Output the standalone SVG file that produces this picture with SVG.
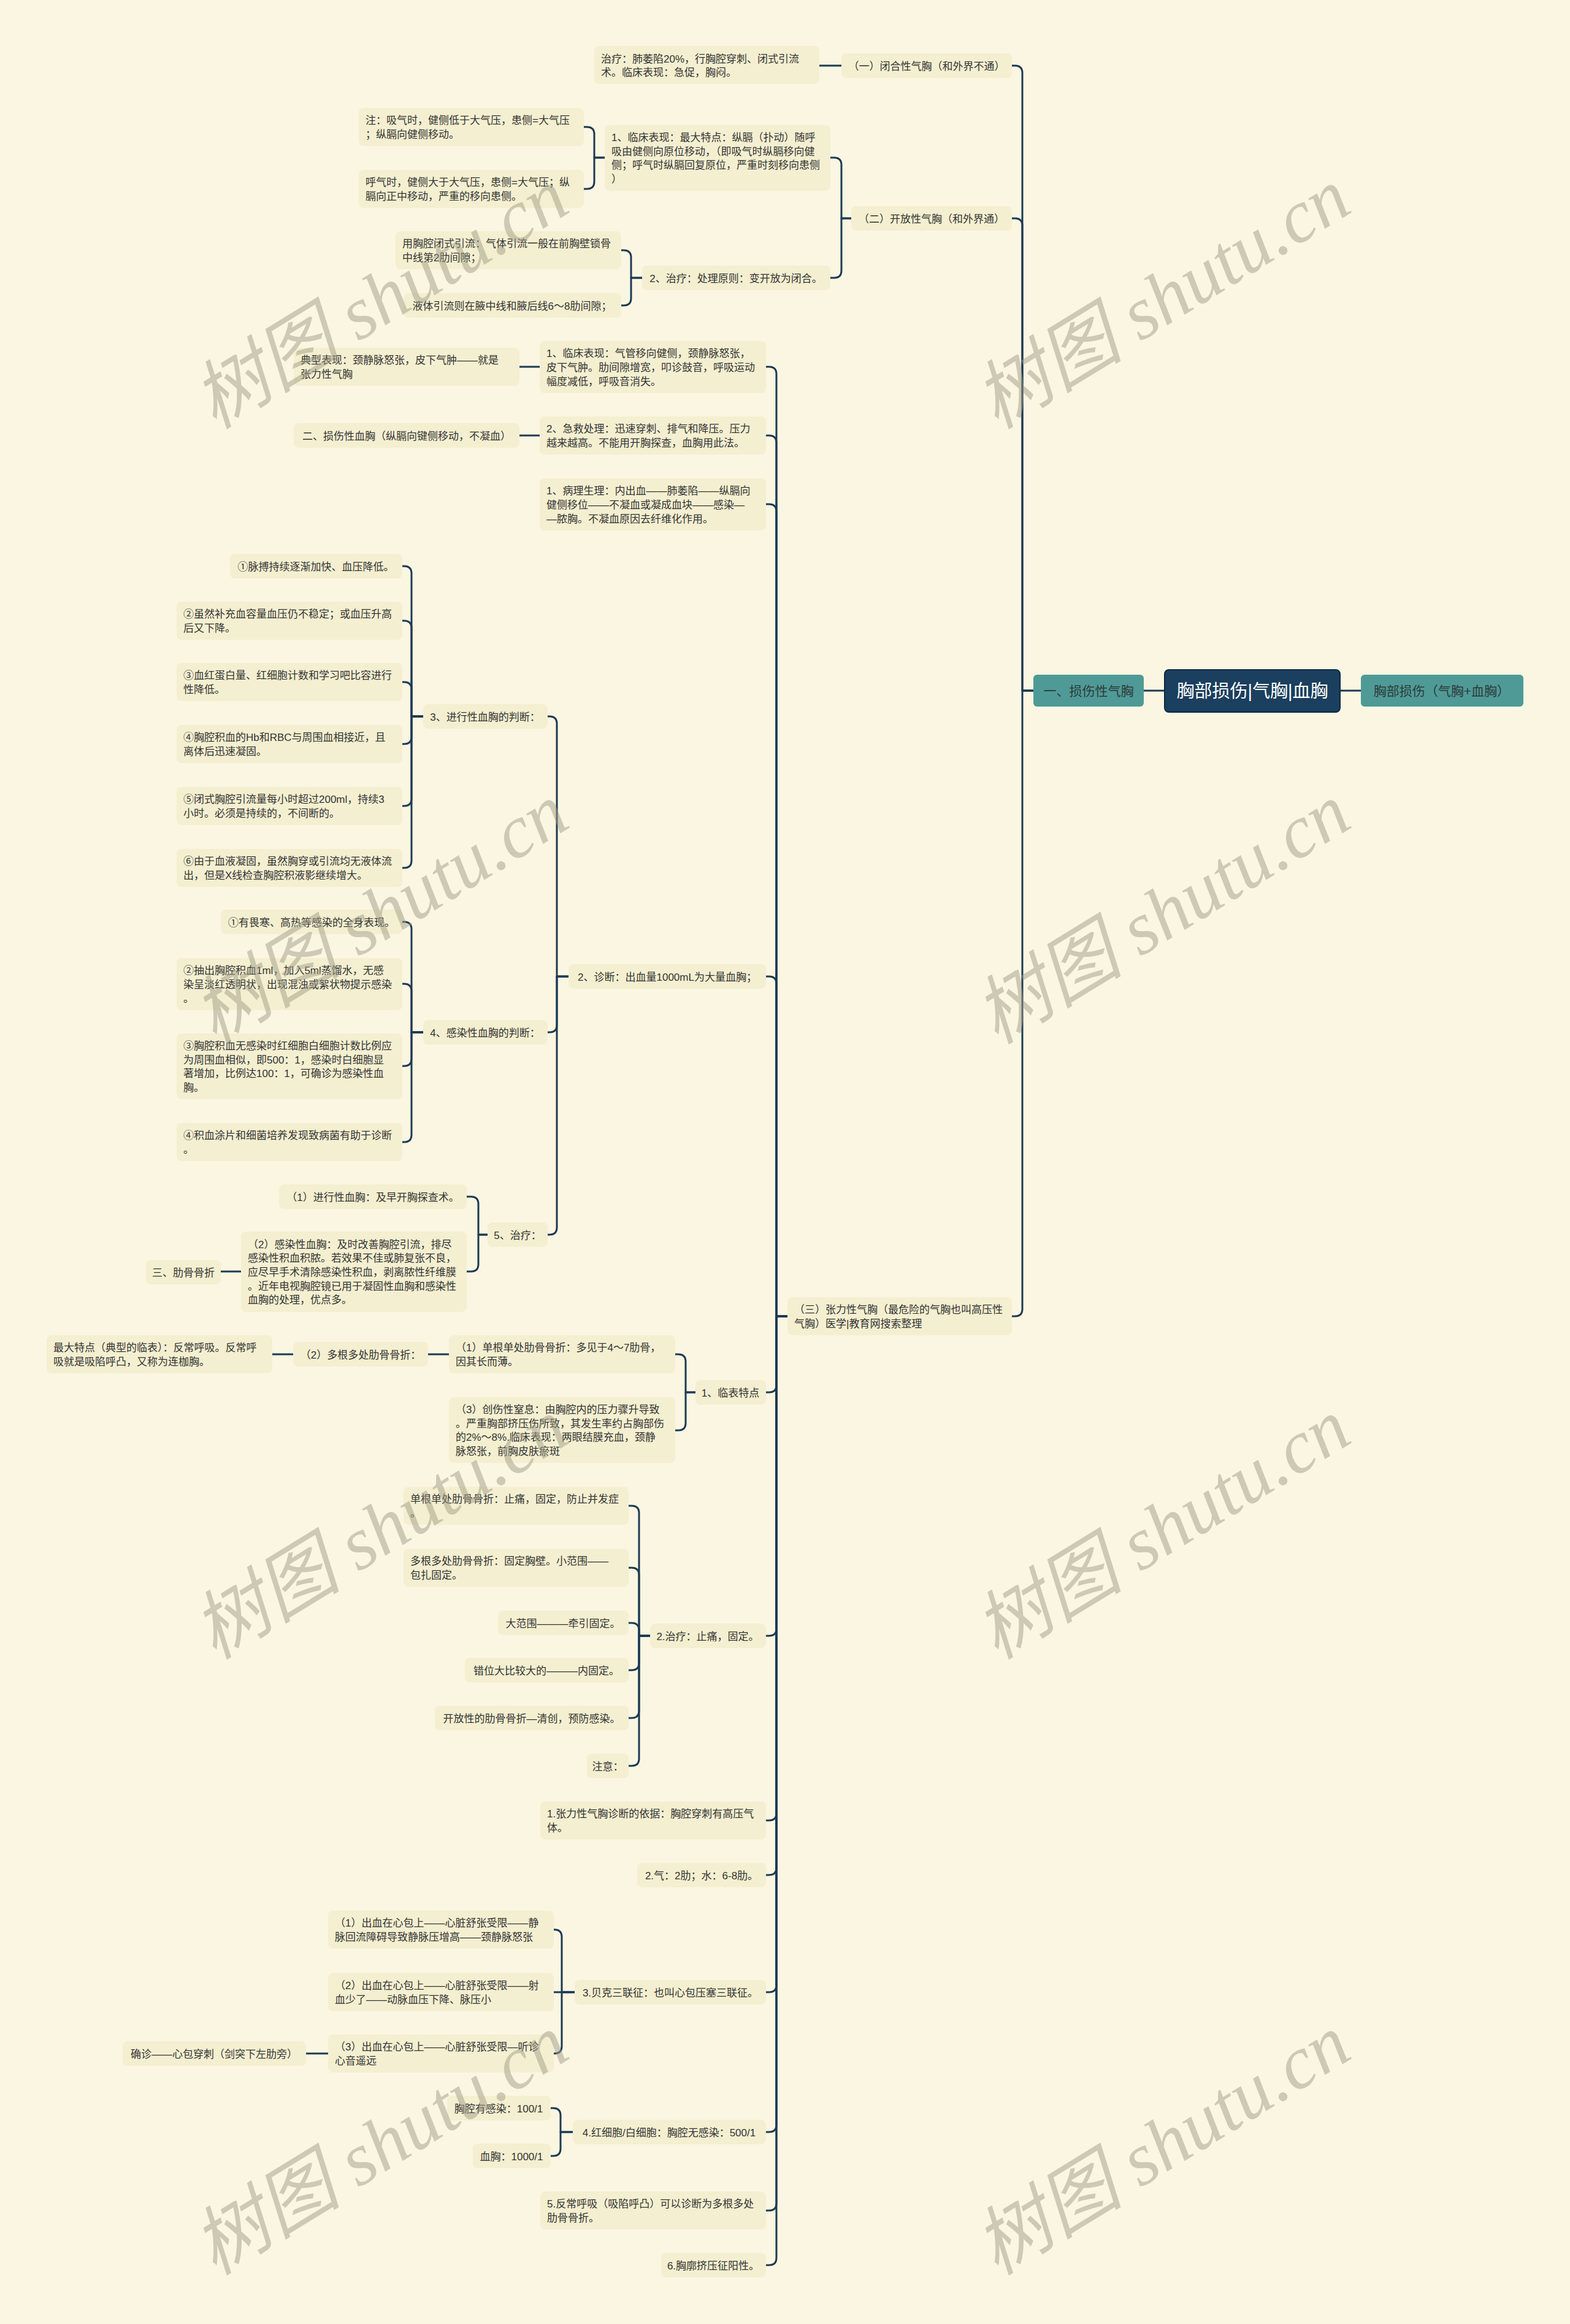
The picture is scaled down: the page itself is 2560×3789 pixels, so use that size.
<svg xmlns="http://www.w3.org/2000/svg" width="2560" height="3789" viewBox="0 0 2560 3789">
<style>
.bg{fill:#faf6e2}
.n rect{fill:#f4efd0}
.t{font-family:"Liberation Sans","Noto Sans CJK SC",sans-serif;font-size:17px;fill:#333333}
.m{text-anchor:middle}
.c path{fill:none;stroke:#1d3a52;stroke-width:3;stroke-linecap:round;stroke-linejoin:round}
.teal rect{fill:#4f9a97}
.tt{font-family:"Liberation Sans","Noto Sans CJK SC",sans-serif;font-size:21px;fill:#2e3a3a;text-anchor:middle}
.wm{font-family:"Liberation Serif","Noto Sans CJK SC",serif;font-size:122px;font-style:italic;fill:#a29e88;opacity:0.5}
</style>
<rect class="bg" x="0" y="0" width="2560" height="3789"/>

<g id="connectors" class="c">
<path d="M1685 1126 H1667 V119 Q1667 107 1655 107 H1650"/>
<path d="M1685 1126 H1667 V368 Q1667 356 1655 356 H1650"/>
<path d="M1685 1126 H1667 V2134 Q1667 2146 1655 2146 H1650"/>
<path d="M1372 107 H1336"/>
<path d="M1388 356 H1372 V269 Q1372 257 1360 257 H1354"/>
<path d="M1388 356 H1372 V441 Q1372 453 1360 453 H1354"/>
<path d="M986 257 H969 V219 Q969 207 957 207 H952"/>
<path d="M986 257 H969 V296 Q969 308 957 308 H952"/>
<path d="M1047 453 H1029 V420 Q1029 408 1017 408 H1013"/>
<path d="M1047 453 H1029 V486 Q1029 498 1017 498 H1013"/>
<path d="M1284 2146 H1266 V610 Q1266 598 1254 598 H1249"/>
<path d="M1284 2146 H1266 V722 Q1266 710 1254 710 H1249"/>
<path d="M1284 2146 H1266 V834 Q1266 822 1254 822 H1249"/>
<path d="M1284 2146 H1266 V1604 Q1266 1592 1254 1592 H1249"/>
<path d="M1284 2146 H1266 V2258 Q1266 2270 1254 2270 H1249"/>
<path d="M1284 2146 H1266 V2655 Q1266 2667 1254 2667 H1249"/>
<path d="M1284 2146 H1266 V2956 Q1266 2968 1254 2968 H1249"/>
<path d="M1284 2146 H1266 V3045 Q1266 3057 1254 3057 H1249"/>
<path d="M1284 2146 H1266 V3236 Q1266 3248 1254 3248 H1249"/>
<path d="M1284 2146 H1266 V3464 Q1266 3476 1254 3476 H1249"/>
<path d="M1284 2146 H1266 V3592 Q1266 3604 1254 3604 H1249"/>
<path d="M1284 2146 H1266 V3681 Q1266 3693 1254 3693 H1249"/>
<path d="M880 598 H847"/>
<path d="M880 710 H847"/>
<path d="M927 1592 H908 V1180 Q908 1168 896 1168 H893"/>
<path d="M927 1592 H908 V1671 Q908 1683 896 1683 H893"/>
<path d="M927 1592 H908 V2001 Q908 2013 896 2013 H893"/>
<path d="M690 1168 H671 V935 Q671 923 659 923 H656"/>
<path d="M690 1168 H671 V1024 Q671 1012 659 1012 H656"/>
<path d="M690 1168 H671 V1124 Q671 1112 659 1112 H656"/>
<path d="M690 1168 H671 V1201 Q671 1213 659 1213 H656"/>
<path d="M690 1168 H671 V1302 Q671 1314 659 1314 H656"/>
<path d="M690 1168 H671 V1403 Q671 1415 659 1415 H656"/>
<path d="M690 1683 H671 V1515 Q671 1503 659 1503 H656"/>
<path d="M690 1683 H671 V1616 Q671 1604 659 1604 H656"/>
<path d="M690 1683 H671 V1726 Q671 1738 659 1738 H656"/>
<path d="M690 1683 H671 V1850 Q671 1862 659 1862 H656"/>
<path d="M795 2013 H780 V1963 Q780 1951 768 1951 H761"/>
<path d="M795 2013 H780 V2061 Q780 2073 768 2073 H761"/>
<path d="M393 2073 H360"/>
<path d="M1134 2270 H1118 V2220 Q1118 2208 1106 2208 H1101"/>
<path d="M1134 2270 H1118 V2320 Q1118 2332 1106 2332 H1101"/>
<path d="M732 2208 H698"/>
<path d="M478 2208 H444"/>
<path d="M1060 2667 H1042 V2467 Q1042 2455 1030 2455 H1025"/>
<path d="M1060 2667 H1042 V2568 Q1042 2556 1030 2556 H1025"/>
<path d="M1060 2667 H1042 V2658 Q1042 2646 1030 2646 H1025"/>
<path d="M1060 2667 H1042 V2711 Q1042 2723 1030 2723 H1025"/>
<path d="M1060 2667 H1042 V2789 Q1042 2801 1030 2801 H1025"/>
<path d="M1060 2667 H1042 V2867 Q1042 2879 1030 2879 H1025"/>
<path d="M937 3248 H916 V3158 Q916 3146 904 3146 H903"/>
<path d="M937 3248 H903"/>
<path d="M937 3248 H916 V3336 Q916 3348 904 3348 H903"/>
<path d="M535 3348 H499"/>
<path d="M934 3476 H914 V3449 Q914 3437 902 3437 H898"/>
<path d="M934 3476 H914 V3503 Q914 3515 902 3515 H898"/>
<path d="M1899 1126 H1865"/>
<path d="M2185 1126 H2219"/>
</g>

<g id="root"><rect x="1899" y="1092" width="286" height="69" rx="7" fill="#1b3f5e" stroke="#0e2a42" stroke-width="2"/><text x="2042" y="1137" font-family="Liberation Sans, Noto Sans CJK SC, sans-serif" font-size="29" fill="#ffffff" text-anchor="middle">胸部损伤|气胸|血胸</text></g>
<g id="L1" class="teal"><rect x="1685" y="1100" width="180" height="52" rx="6"/><text class="tt" x="1775" y="1134">一、损伤性气胸</text></g>
<g id="R1" class="teal"><rect x="2219" y="1100" width="265" height="52" rx="6"/><text class="tt" x="2351" y="1134">胸部损伤（气胸+血胸）</text></g>

<g id="n1" class="n"><rect x="969" y="75" width="367" height="62" rx="8"/><text class="t"><tspan x="980" y="101.6">治疗：肺萎陷20%，行胸腔穿刺、闭式引流</tspan><tspan x="980" y="124.3">术。临床表现：急促，胸闷。</tspan></text></g>
<g id="n2" class="n"><rect x="1372" y="87" width="278" height="40" rx="8"/><text class="t m" x="1511" y="113.5">（一）闭合性气胸（和外界不通）</text></g>
<g id="n3" class="n"><rect x="585" y="176" width="367" height="62" rx="8"/><text class="t"><tspan x="596" y="202.2">注：吸气时，健侧低于大气压，患侧=大气压</tspan><tspan x="596" y="224.9">；纵膈向健侧移动。</tspan></text></g>
<g id="n4" class="n"><rect x="986" y="204" width="368" height="107" rx="8"/><text class="t"><tspan x="997" y="230">1、临床表现：最大特点：纵膈（扑动）随呼</tspan><tspan x="997" y="252.7">吸由健侧向原位移动，（即吸气时纵膈移向健</tspan><tspan x="997" y="275.4">侧；呼气时纵膈回复原位，严重时刻移向患侧</tspan><tspan x="997" y="298.1">）</tspan></text></g>
<g id="n5" class="n"><rect x="585" y="277" width="367" height="62" rx="8"/><text class="t"><tspan x="596" y="303.2">呼气时，健侧大于大气压，患侧=大气压；纵</tspan><tspan x="596" y="325.9">膈向正中移动，严重的移向患侧。</tspan></text></g>
<g id="n6" class="n"><rect x="1388" y="336" width="262" height="40" rx="8"/><text class="t m" x="1519" y="362.5">（二）开放性气胸（和外界通）</text></g>
<g id="n7" class="n"><rect x="645" y="377" width="368" height="62" rx="8"/><text class="t"><tspan x="656" y="403.2">用胸腔闭式引流：气体引流一般在前胸壁锁骨</tspan><tspan x="656" y="425.9">中线第2肋间隙；</tspan></text></g>
<g id="n8" class="n"><rect x="1047" y="433" width="307" height="40" rx="8"/><text class="t m" x="1200" y="459.5">2、治疗：处理原则：变开放为闭合。</text></g>
<g id="n9" class="n"><rect x="658" y="478" width="355" height="40" rx="8"/><text class="t m" x="835" y="504.5">液体引流则在腋中线和腋后线6～8肋间隙；</text></g>

<g id="n10" class="n"><rect x="479" y="567" width="368" height="62" rx="8"/><text class="t"><tspan x="490" y="593.2">典型表现：颈静脉怒张，皮下气肿——就是</tspan><tspan x="490" y="615.9">张力性气胸</tspan></text></g>
<g id="n11" class="n"><rect x="880" y="556" width="369" height="85" rx="8"/><text class="t"><tspan x="891" y="582.3">1、临床表现：气管移向健侧，颈静脉怒张，</tspan><tspan x="891" y="605">皮下气肿。肋间隙增宽，叩诊鼓音，呼吸运动</tspan><tspan x="891" y="627.7">幅度减低，呼吸音消失。</tspan></text></g>
<g id="n12" class="n"><rect x="479" y="690" width="368" height="40" rx="8"/><text class="t m" x="663" y="716.5">二、损伤性血胸（纵膈向键侧移动，不凝血）</text></g>
<g id="n13" class="n"><rect x="880" y="679" width="369" height="62" rx="8"/><text class="t"><tspan x="891" y="705.2">2、急救处理：迅速穿刺、排气和降压。压力</tspan><tspan x="891" y="727.9">越来越高。不能用开胸探查，血胸用此法。</tspan></text></g>
<g id="n14" class="n"><rect x="880" y="780" width="369" height="85" rx="8"/><text class="t"><tspan x="891" y="806.3">1、病理生理：内出血——肺萎陷——纵膈向</tspan><tspan x="891" y="829">健侧移位——不凝血或凝成血块——感染—</tspan><tspan x="891" y="851.7">—脓胸。不凝血原因去纤维化作用。</tspan></text></g>

<g id="n15" class="n"><rect x="375" y="903" width="281" height="40" rx="8"/><text class="t m" x="515" y="929.5">①脉搏持续逐渐加快、血压降低。</text></g>
<g id="n16" class="n"><rect x="288" y="981" width="368" height="62" rx="8"/><text class="t"><tspan x="299" y="1007.2">②虽然补充血容量血压仍不稳定；或血压升高</tspan><tspan x="299" y="1029.9">后又下降。</tspan></text></g>
<g id="n17" class="n"><rect x="288" y="1081" width="368" height="62" rx="8"/><text class="t"><tspan x="299" y="1107.2">③血红蛋白量、红细胞计数和学习吧比容进行</tspan><tspan x="299" y="1129.9">性降低。</tspan></text></g>
<g id="n18" class="n"><rect x="288" y="1182" width="368" height="62" rx="8"/><text class="t"><tspan x="299" y="1208.2">④胸腔积血的Hb和RBC与周围血相接近，且</tspan><tspan x="299" y="1230.9">离体后迅速凝固。</tspan></text></g>
<g id="n19" class="n"><rect x="288" y="1283" width="368" height="62" rx="8"/><text class="t"><tspan x="299" y="1309.2">⑤闭式胸腔引流量每小时超过200ml，持续3</tspan><tspan x="299" y="1331.9">小时。必须是持续的，不间断的。</tspan></text></g>
<g id="n20" class="n"><rect x="288" y="1384" width="368" height="62" rx="8"/><text class="t"><tspan x="299" y="1410.2">⑥由于血液凝固，虽然胸穿或引流均无液体流</tspan><tspan x="299" y="1432.9">出，但是X线检查胸腔积液影继续增大。</tspan></text></g>
<g id="n21" class="n"><rect x="690" y="1148" width="203" height="40" rx="8"/><text class="t m" x="791" y="1174.5">3、进行性血胸的判断：</text></g>

<g id="n22" class="n"><rect x="360" y="1483" width="296" height="40" rx="8"/><text class="t m" x="508" y="1509.5">①有畏寒、高热等感染的全身表现。</text></g>
<g id="n23" class="n"><rect x="288" y="1562" width="368" height="85" rx="8"/><text class="t"><tspan x="299" y="1588.3">②抽出胸腔积血1ml，加入5ml蒸馏水，无感</tspan><tspan x="299" y="1611">染呈淡红透明状，出现混浊或絮状物提示感染</tspan><tspan x="299" y="1633.7">。</tspan></text></g>
<g id="n24" class="n"><rect x="288" y="1685" width="368" height="107" rx="8"/><text class="t"><tspan x="299" y="1711">③胸腔积血无感染时红细胞白细胞计数比例应</tspan><tspan x="299" y="1733.7">为周围血相似，即500：1，感染时白细胞显</tspan><tspan x="299" y="1756.4">著增加，比例达100：1，可确诊为感染性血</tspan><tspan x="299" y="1779.1">胸。</tspan></text></g>
<g id="n25" class="n"><rect x="288" y="1831" width="368" height="62" rx="8"/><text class="t"><tspan x="299" y="1857.2">④积血涂片和细菌培养发现致病菌有助于诊断</tspan><tspan x="299" y="1879.9">。</tspan></text></g>
<g id="n26" class="n"><rect x="690" y="1663" width="203" height="40" rx="8"/><text class="t m" x="791" y="1689.5">4、感染性血胸的判断：</text></g>
<g id="n27" class="n"><rect x="927" y="1572" width="322" height="40" rx="8"/><text class="t m" x="1088" y="1598.5">2、诊断：出血量1000mL为大量血胸；</text></g>

<g id="n28" class="n"><rect x="455" y="1931" width="306" height="40" rx="8"/><text class="t m" x="608" y="1957.5">（1）进行性血胸：及早开胸探查术。</text></g>
<g id="n29" class="n"><rect x="393" y="2008" width="368" height="131" rx="8"/><text class="t"><tspan x="404" y="2034.6">（2）感染性血胸：及时改善胸腔引流，排尽</tspan><tspan x="404" y="2057.3">感染性积血积脓。若效果不佳或肺复张不良，</tspan><tspan x="404" y="2080">应尽早手术清除感染性积血，剥离脓性纤维膜</tspan><tspan x="404" y="2102.7">。近年电视胸腔镜已用于凝固性血胸和感染性</tspan><tspan x="404" y="2125.4">血胸的处理，优点多。</tspan></text></g>
<g id="n30" class="n"><rect x="795" y="1993" width="98" height="40" rx="8"/><text class="t m" x="844" y="2019.5">5、治疗：</text></g>
<g id="n31" class="n"><rect x="238" y="2054" width="122" height="40" rx="8"/><text class="t m" x="299" y="2080.5">三、肋骨骨折</text></g>

<g id="n32" class="n"><rect x="1284" y="2115" width="366" height="62" rx="8"/><text class="t"><tspan x="1295" y="2141.2">（三）张力性气胸（最危险的气胸也叫高压性</tspan><tspan x="1295" y="2163.9">气胸）医学|教育网搜索整理</tspan></text></g>
<g id="n33" class="n"><rect x="76" y="2177" width="368" height="62" rx="8"/><text class="t"><tspan x="87" y="2203.2">最大特点（典型的临表）：反常呼吸。反常呼</tspan><tspan x="87" y="2225.9">吸就是吸陷呼凸，又称为连枷胸。</tspan></text></g>
<g id="n34" class="n"><rect x="478" y="2188" width="220" height="40" rx="8"/><text class="t m" x="588" y="2214.5">（2）多根多处肋骨骨折：</text></g>
<g id="n35" class="n"><rect x="732" y="2177" width="369" height="62" rx="8"/><text class="t"><tspan x="743" y="2203.2">（1）单根单处肋骨骨折：多见于4～7肋骨，</tspan><tspan x="743" y="2225.9">因其长而薄。</tspan></text></g>
<g id="n36" class="n"><rect x="1134" y="2250" width="115" height="40" rx="8"/><text class="t m" x="1191" y="2276.5">1、临表特点</text></g>
<g id="n37" class="n"><rect x="732" y="2278" width="369" height="107" rx="8"/><text class="t"><tspan x="743" y="2304">（3）创伤性窒息：由胸腔内的压力骤升导致</tspan><tspan x="743" y="2326.7">。严重胸部挤压伤所致，其发生率约占胸部伤</tspan><tspan x="743" y="2349.4">的2%～8%.临床表现：两眼结膜充血，颈静</tspan><tspan x="743" y="2372.1">脉怒张，前胸皮肤瘀斑</tspan></text></g>

<g id="n38" class="n"><rect x="658" y="2424" width="367" height="62" rx="8"/><text class="t"><tspan x="669" y="2450.2">单根单处肋骨骨折：止痛，固定，防止并发症</tspan><tspan x="669" y="2472.9">。</tspan></text></g>
<g id="n39" class="n"><rect x="658" y="2525" width="367" height="62" rx="8"/><text class="t"><tspan x="669" y="2551.2">多根多处肋骨骨折：固定胸壁。小范围——</tspan><tspan x="669" y="2573.9">包扎固定。</tspan></text></g>
<g id="n40" class="n"><rect x="812" y="2626" width="213" height="40" rx="8"/><text class="t m" x="918" y="2652.5">大范围———牵引固定。</text></g>
<g id="n41" class="n"><rect x="758" y="2703" width="267" height="40" rx="8"/><text class="t m" x="891" y="2729.5">错位大比较大的———内固定。</text></g>
<g id="n42" class="n"><rect x="709" y="2781" width="316" height="40" rx="8"/><text class="t m" x="867" y="2807.5">开放性的肋骨骨折—清创，预防感染。</text></g>
<g id="n43" class="n"><rect x="957" y="2859" width="68" height="40" rx="8"/><text class="t m" x="991" y="2885.5">注意：</text></g>
<g id="n44" class="n"><rect x="1060" y="2647" width="189" height="40" rx="8"/><text class="t m" x="1154" y="2673.5">2.治疗：止痛，固定。</text></g>

<g id="n45" class="n"><rect x="881" y="2937" width="368" height="62" rx="8"/><text class="t"><tspan x="892" y="2963.2">1.张力性气胸诊断的依据：胸腔穿刺有高压气</tspan><tspan x="892" y="2985.9">体。</tspan></text></g>
<g id="n46" class="n"><rect x="1039" y="3037" width="210" height="40" rx="8"/><text class="t m" x="1144" y="3063.5">2.气：2肋；水：6-8肋。</text></g>
<g id="n47" class="n"><rect x="535" y="3115" width="368" height="62" rx="8"/><text class="t"><tspan x="546" y="3141.2">（1）出血在心包上——心脏舒张受限——静</tspan><tspan x="546" y="3163.9">脉回流障碍导致静脉压增高——颈静脉怒张</tspan></text></g>
<g id="n48" class="n"><rect x="535" y="3217" width="368" height="62" rx="8"/><text class="t"><tspan x="546" y="3243.2">（2）出血在心包上——心脏舒张受限——射</tspan><tspan x="546" y="3265.9">血少了——动脉血压下降、脉压小</tspan></text></g>
<g id="n49" class="n"><rect x="535" y="3317" width="368" height="62" rx="8"/><text class="t"><tspan x="546" y="3343.2">（3）出血在心包上——心脏舒张受限—听诊</tspan><tspan x="546" y="3365.9">心音遥远</tspan></text></g>
<g id="n50" class="n"><rect x="937" y="3228" width="312" height="40" rx="8"/><text class="t m" x="1093" y="3254.5">3.贝克三联征：也叫心包压塞三联征。</text></g>
<g id="n51" class="n"><rect x="200" y="3328" width="299" height="40" rx="8"/><text class="t m" x="349" y="3354.5">确诊——心包穿刺（剑突下左肋旁）</text></g>
<g id="n52" class="n"><rect x="729" y="3417" width="169" height="40" rx="8"/><text class="t m" x="813" y="3443.5">胸腔有感染：100/1</text></g>
<g id="n53" class="n"><rect x="771" y="3495" width="127" height="40" rx="8"/><text class="t m" x="834" y="3521.5">血胸：1000/1</text></g>
<g id="n54" class="n"><rect x="934" y="3456" width="315" height="40" rx="8"/><text class="t m" x="1091" y="3482.5">4.红细胞/白细胞：胸腔无感染：500/1</text></g>
<g id="n55" class="n"><rect x="881" y="3573" width="368" height="62" rx="8"/><text class="t"><tspan x="892" y="3599.2">5.反常呼吸（吸陷呼凸）可以诊断为多根多处</tspan><tspan x="892" y="3621.9">肋骨骨折。</tspan></text></g>
<g id="n56" class="n"><rect x="1078" y="3673" width="171" height="40" rx="8"/><text class="t m" x="1163" y="3699.5">6.胸廓挤压征阳性。</text></g>

<g id="watermarks">
<text class="wm" x="350" y="701" transform="rotate(-31.5 350 701)">树图 shutu.cn</text>
<text class="wm" x="1625" y="701" transform="rotate(-31.5 1625 701)">树图 shutu.cn</text>
<text class="wm" x="350" y="1704" transform="rotate(-31.5 350 1704)">树图 shutu.cn</text>
<text class="wm" x="1625" y="1704" transform="rotate(-31.5 1625 1704)">树图 shutu.cn</text>
<text class="wm" x="350" y="2707" transform="rotate(-31.5 350 2707)">树图 shutu.cn</text>
<text class="wm" x="1625" y="2707" transform="rotate(-31.5 1625 2707)">树图 shutu.cn</text>
<text class="wm" x="350" y="3711" transform="rotate(-31.5 350 3711)">树图 shutu.cn</text>
<text class="wm" x="1625" y="3711" transform="rotate(-31.5 1625 3711)">树图 shutu.cn</text>
</g>
</svg>
